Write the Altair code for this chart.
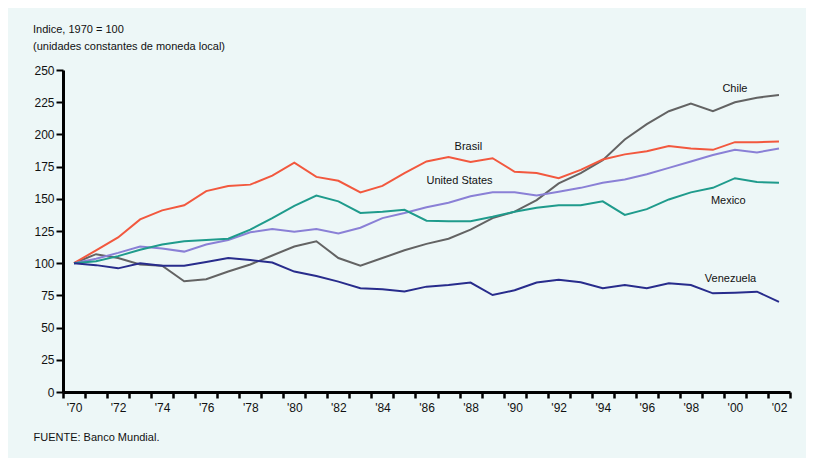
import altair as alt
import pandas as pd

years = list(range(1970, 2003))

chile = [100, 107, 104, 99, 98, 86, 87.5, 93.5, 99, 106,
         113, 117, 104, 98, 104, 110, 115, 119, 126, 135,
         140, 149, 162, 170, 180, 196, 208, 218, 224, 218,
         225, 228.5, 230.5]
brasil = [100, 110, 120, 134, 141, 145, 156, 160, 161, 168,
          178, 167, 164, 155, 160, 170, 179, 182.5, 178.5, 181.5,
          171, 170, 166, 172.5, 180.5, 184.5, 187, 191, 189, 188,
          194, 194, 194.5]
united_states = [100, 103.5, 108, 113, 111.5, 109, 114.5, 118, 124, 126.5,
                 124.5, 126.5, 123, 127.5, 135, 139, 143.5, 147, 152, 155,
                 155, 152.5, 155.5, 158.5, 162.5, 165, 169, 174, 179, 184,
                 188, 186, 189]
mexico = [100, 101.5, 105.5, 110.5, 114.5, 117, 118, 119, 126, 135,
          144.5, 152.5, 148, 139, 140, 141.5, 133, 132.5, 132.5, 136,
          140, 143, 145, 145, 148, 137.5, 142, 149.5, 155, 158.5,
          166, 163, 162.5]
venezuela = [100, 98.5, 96, 100, 98, 98, 101, 104, 102.5, 100.5,
             93.5, 90, 85.7, 80.5, 79.7, 78, 81.8, 83, 85, 75.3,
             79, 85, 87.2, 85.2, 80.5, 83, 80.5, 84.4, 83, 76.6,
             77.1, 77.9, 70]

countries = ["Chile", "Brasil", "United States", "Mexico", "Venezuela"]
colors = ["#636363", "#f2583e", "#8a80d6", "#1f9b8c", "#282c8c"]

label_text = ["Chile", "Brasil", "United States", "Mexico", "Venezuela"]
label_year = [2000.0, 1987.9, 1987.5, 1999.7, 1999.8]
label_value = [235.5, 190.5, 163.5, 148.5, 88]

y_ticks = [0, 25, 50, 75, 100, 125, 150, 175, 200, 225, 250]
x_label_years = list(range(1970, 2003, 2))
x_tick_positions = [y + 0.5 for y in range(1969, 2003)]

series = [chile, brasil, united_states, mexico, venezuela]
rows = []
for name, vals in zip(countries, series):
    for yr, v in zip(years, vals):
        rows.append({"country": name, "year": yr, "value": v})
df = pd.DataFrame(rows)
labels_df = pd.DataFrame({"label": label_text, "year": label_year, "value": label_value})

FONT = "Liberation Sans, Arial, sans-serif"

xscale = alt.Scale(domain=[1969.5, 2002.5], nice=False, zero=False)
yscale = alt.Scale(domain=[0, 250], nice=False, zero=True)

y_axis = alt.Axis(values=y_ticks, title=None, grid=False, tickSize=7, tickWidth=2,
                  tickColor="black", domainColor="black", domainWidth=3,
                  labelFontSize=12, labelPadding=2, labelColor="#111", labelFont=FONT)

x_axis_labels = alt.Axis(values=x_label_years, grid=False, ticks=False, tickSize=0,
                         labelExpr="\"'\" + slice(toString(datum.value), 2)",
                         labelFontSize=12, labelPadding=10, labelColor="#111", labelFont=FONT,
                         domainColor="black", domainWidth=3,
                         title="FUENTE: Banco Mundial.", titleX=-30, titleY=45,
                         titleAlign="left", titleBaseline="middle", titleFontSize=11,
                         titleFontWeight="normal", titleColor="#111", titleFont=FONT,
                         orient="bottom")

x_axis_ticks = alt.Axis(values=x_tick_positions, grid=False, labels=False, domain=False,
                        tickSize=6, tickWidth=2.5, tickColor="black", title=None,
                        orient="bottom")

color = alt.Color("country:N", scale=alt.Scale(domain=countries, range=colors), legend=None)

lines = alt.Chart(df).mark_line(strokeWidth=2).encode(
    x=alt.X("year:Q", scale=xscale, axis=x_axis_labels),
    y=alt.Y("value:Q", scale=yscale, axis=y_axis),
    color=color,
)

texts = alt.Chart(labels_df).mark_text(fontSize=11, font=FONT, color="#111", align="center",
                                        baseline="middle").encode(
    x=alt.X("year:Q", scale=xscale, axis=x_axis_labels),
    y=alt.Y("value:Q", scale=yscale, axis=y_axis),
    text="label:N",
)

ticks_layer = alt.Chart(df).mark_line(opacity=0).encode(
    x=alt.X("year:Q", scale=xscale, axis=x_axis_ticks),
    y=alt.Y("value:Q", scale=yscale, axis=y_axis),
    detail="country:N",
)

chart = alt.layer(alt.layer(lines, texts), ticks_layer).resolve_axis(
    x="independent"
).properties(
    width=727,
    height=322,
    padding={"left": 55, "top": 62, "right": 16, "bottom": 66},
    autosize=alt.AutoSizeParams(type="none"),
    background="#edf7f7",
    title=alt.TitleParams(
        text=["Indice, 1970 = 100", "(unidades constantes de moneda local)"],
        anchor="start", dx=0, offset=12, fontSize=11, fontWeight="normal",
        font=FONT, color="#111", lineHeight=17,
    ),
).configure_view(stroke=None)

chart.save("out.html", embed_options={"renderer": "svg", "actions": False})
